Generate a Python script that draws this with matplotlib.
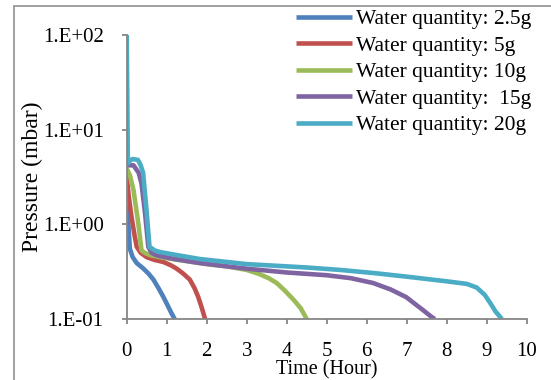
import math
import matplotlib
matplotlib.use('Agg')
import matplotlib.pyplot as plt
from matplotlib.patches import Rectangle
from matplotlib.ticker import FixedLocator, FuncFormatter

# Time (hour) / pressure (mbar)
t_25 = [0, 0.03, 0.08, 0.15, 0.25, 0.42, 0.55, 0.67, 0.8, 0.92, 1.02, 1.12, 1.2]
p_25 = [1.55, 1.2, 0.55, 0.45, 0.39, 0.34, 0.30, 0.26, 0.21, 0.17, 0.14, 0.115, 0.1]

t_5 = [0, 0.05, 0.12, 0.2, 0.25, 0.35, 0.5, 0.7, 0.92, 1.1, 1.25, 1.42, 1.58, 1.7, 1.79, 1.88, 1.96]
p_5 = [3.2, 2.0, 1.2, 0.75, 0.58, 0.5, 0.45, 0.42, 0.40, 0.37, 0.34, 0.30, 0.26, 0.21, 0.17, 0.13, 0.1]

t_10 = [0, 0.08, 0.17, 0.29, 0.37, 0.45, 0.6, 0.83, 1.3, 2.0, 2.5, 3.0, 3.3, 3.55, 3.75, 3.95, 4.17, 4.35, 4.5]
p_10 = [3.9, 3.3, 2.3, 1.02, 0.53, 0.5, 0.47, 0.45, 0.42, 0.38, 0.36, 0.33, 0.30, 0.27, 0.24, 0.20, 0.16, 0.13, 0.1]

t_15 = [0, 0.17, 0.3, 0.37, 0.46, 0.54, 0.62, 0.75, 1.2, 1.83, 2.5, 3.0, 4.0, 5.0, 5.6, 6.16, 6.6, 6.99, 7.2, 7.41, 7.6, 7.7]
p_15 = [4.2, 4.2, 3.5, 2.7, 1.3, 0.58, 0.5, 0.47, 0.43, 0.39, 0.36, 0.34, 0.31, 0.29, 0.27, 0.24, 0.205, 0.17, 0.145, 0.124, 0.107, 0.1]

t_20 = [0, 0.03, 0.05, 0.15, 0.28, 0.35, 0.41, 0.49, 0.57, 0.7, 0.83, 1.3, 1.83, 3.0, 4.5, 5.33, 6.2, 7.0, 8.0, 8.5, 8.75, 8.95, 9.1, 9.22, 9.38]
p_20 = [100, 4.4, 4.6, 4.9, 4.8, 4.2, 3.5, 1.5, 0.58, 0.53, 0.51, 0.47, 0.43, 0.38, 0.35, 0.33, 0.305, 0.28, 0.25, 0.235, 0.215, 0.18, 0.145, 0.12, 0.1]

labels = ['Water quantity: 2.5g', 'Water quantity: 5g', 'Water quantity: 10g',
          'Water quantity:  15g', 'Water quantity: 20g']
colors = ['#4F81BD', '#C0504D', '#9BBB59', '#8064A2', '#4BACC6']

plt.rcParams['font.family'] = ['Liberation Serif', 'DejaVu Serif']

fig = plt.figure(figsize=(5.51, 3.80), dpi=100)
W, H = 551.0, 380.0
ax = fig.add_axes([126.7 / W, 1 - 319 / H, 400 / W, 284 / H])

series = [(t_25, p_25), (t_5, p_5), (t_10, p_10), (t_15, p_15), (t_20, p_20)]
for (t, p), lab, c in zip(series, labels, colors):
    ax.plot(t, p, color=c, lw=3.3, label=lab, solid_capstyle='butt')

ax.set_yscale('log')
ax.set_ylim(0.1, 100)
ax.set_xlim(0, 10)
ax.yaxis.set_major_locator(FixedLocator([0.1, 1, 10, 100]))
ax.yaxis.set_minor_locator(FixedLocator([]))
ax.yaxis.set_major_formatter(FuncFormatter(lambda v, pos: '1.E%+03d' % round(math.log10(v))))
ax.set_xticks(range(0, 11))

gray = '#868686'
for s in ['top', 'right']:
    ax.spines[s].set_visible(False)
for s in ['left', 'bottom']:
    ax.spines[s].set_color(gray)
    ax.spines[s].set_linewidth(1.3)
ax.tick_params(axis='both', direction='out', color=gray, width=1.3, length=3.6, labelsize=15)
ax.tick_params(axis='y', pad=13)
ax.tick_params(axis='x', pad=13)

ax.set_xlabel('Time (Hour)', fontsize=14.5)
ax.xaxis.set_label_coords(0.5, (319 - 360) / 284.0)
ax.set_ylabel('Pressure (mbar)', fontsize=17, labelpad=0)

leg = fig.legend(loc='upper left', bbox_to_anchor=(296 / W, 1 - 9 / H), frameon=False,
                 fontsize=15.5, handlelength=2.6, handletextpad=0.2, labelspacing=0.3,
                 borderpad=0, borderaxespad=0)
for h in leg.get_lines():
    h.set_linewidth(3.3)

# outer chart frame
fig.patches.append(Rectangle((14 / W, -0.1), 1.2, 1.1 - 6 / H, transform=fig.transFigure,
                             fill=False, edgecolor='#999999', lw=1.3, clip_on=False))

fig.savefig('out.png', dpi=100)
